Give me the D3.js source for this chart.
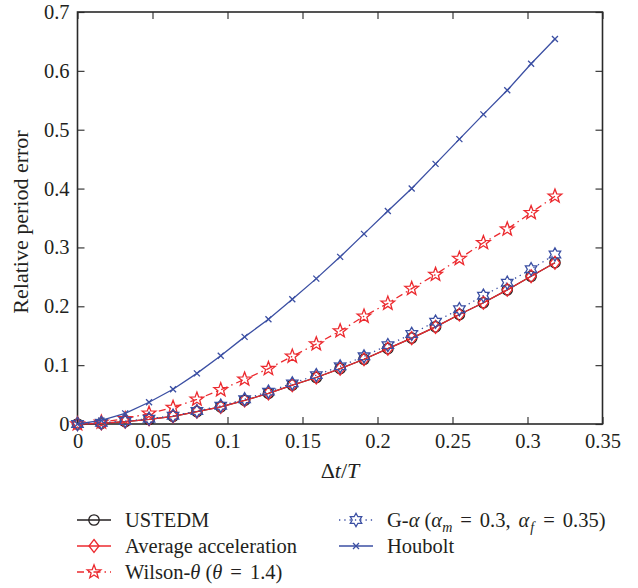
<!DOCTYPE html>
<html>
<head>
<meta charset="utf-8">
<script src="https://cdn.jsdelivr.net/npm/d3@7"></script>
<style>
  html, body { margin: 0; padding: 0; background: #fff; }
  svg { display: block; }
  text { font-family: "Liberation Serif", "Times New Roman", serif; fill: #231f20; }
</style>
</head>
<body>
<svg id="chart" width="638" height="588" font-family="Liberation Serif, serif"></svg>
<script>
// Time-step ratio Δt/T
const dtOverT = [0, 0.0159, 0.0318, 0.0477, 0.0637, 0.0796, 0.0955, 0.1114, 0.1273, 0.1432,
  0.1592, 0.1751, 0.1910, 0.2069, 0.2228, 0.2387, 0.2546, 0.2706, 0.2865, 0.3024, 0.3183];

// Relative period error of each scheme
const ustedm = [0, 0.001, 0.004, 0.008, 0.013, 0.021, 0.029, 0.040, 0.052, 0.066, 0.079,
  0.094, 0.110, 0.128, 0.146, 0.165, 0.186, 0.206, 0.228, 0.251, 0.274];
const averageAcceleration = [0, 0.001, 0.004, 0.008, 0.013, 0.021, 0.029, 0.040, 0.052, 0.066, 0.079,
  0.094, 0.110, 0.128, 0.146, 0.165, 0.186, 0.206, 0.228, 0.251, 0.274];
const wilsonTheta = [0, 0.003, 0.009, 0.018, 0.028, 0.042, 0.058, 0.076, 0.094, 0.115, 0.136,
  0.158, 0.183, 0.205, 0.230, 0.254, 0.281, 0.308, 0.331, 0.359, 0.387];
const generalizedAlpha = [0, 0.002, 0.005, 0.009, 0.014, 0.022, 0.031, 0.042, 0.055, 0.069, 0.083,
  0.098, 0.115, 0.134, 0.153, 0.174, 0.195, 0.218, 0.240, 0.263, 0.288];
const houbolt = [0, 0.006, 0.018, 0.037, 0.059, 0.086, 0.116, 0.148, 0.178, 0.212, 0.247,
  0.284, 0.323, 0.362, 0.400, 0.442, 0.484, 0.526, 0.567, 0.612, 0.654];

// Tick values and labels
const xTicks = [0, 0.05, 0.1, 0.15, 0.2, 0.25, 0.3, 0.35];
const xTickLabels = ["0", "0.05", "0.1", "0.15", "0.2", "0.25", "0.3", "0.35"];
const yTicks = [0, 0.1, 0.2, 0.3, 0.4, 0.5, 0.6, 0.7];
const yTickLabels = ["0", "0.1", "0.2", "0.3", "0.4", "0.5", "0.6", "0.7"];

const RED = "#ec2a2f", BLUE = "#3b4fa3", BLACK = "#231f20";

const svg = d3.select("#chart");
const plot = { left: 77.5, right: 602.5, top: 12, bottom: 424 };

const x = d3.scaleLinear().domain([0, 0.35]).range([plot.left, plot.right]);
const y = d3.scaleLinear().domain([0, 0.7]).range([plot.bottom, plot.top]);

// Marker shape generators (centered at origin)
function starPath(points, R, r) {
  const p = d3.path();
  for (let i = 0; i < points * 2; i++) {
    const a = -Math.PI / 2 + i * Math.PI / points;
    const rad = i % 2 === 0 ? R : r;
    const px = rad * Math.cos(a), py = rad * Math.sin(a);
    if (i === 0) p.moveTo(px, py); else p.lineTo(px, py);
  }
  p.closePath();
  return p.toString();
}
const markerPaths = {
  circle: d3.symbol(d3.symbolCircle, Math.PI * 5.2 * 5.2)(),
  diamond: "M0,-6.5L5,0L0,6.5L-5,0Z",
  pentagram: starPath(5, 7.2, 3.0),
  hexagram: starPath(6, 6.6, 3.8),
  cross: "M-3,-3L3,3M-3,3L3,-3"
};

const series = [
  { name: "USTEDM", values: ustedm, color: BLACK, dash: null, marker: "circle" },
  { name: "Average acceleration", values: averageAcceleration, color: RED, dash: null, marker: "diamond" },
  { name: "Wilson", values: wilsonTheta, color: RED, dash: "7,4,1.5,4", marker: "pentagram" },
  { name: "G-alpha", values: generalizedAlpha, color: BLUE, dash: "1.3,4", marker: "hexagram" },
  { name: "Houbolt", values: houbolt, color: BLUE, dash: null, marker: "cross" }
];

// Axes: inward ticks on all four sides
const tickLen = 7;
const fontSize = 20.5;
const xAxis = d3.axisBottom(x).tickValues(xTicks)
  .tickFormat((d, i) => xTickLabels[i]).tickSizeInner(-tickLen).tickSizeOuter(0).tickPadding(9);
const yAxis = d3.axisLeft(y).tickValues(yTicks)
  .tickFormat((d, i) => yTickLabels[i]).tickSizeInner(-tickLen).tickSizeOuter(0).tickPadding(8);
const xAxisTop = d3.axisTop(x).tickValues(xTicks).tickFormat("").tickSizeInner(-tickLen).tickSizeOuter(0);
const yAxisRight = d3.axisRight(y).tickValues(yTicks).tickFormat("").tickSizeInner(-tickLen).tickSizeOuter(0);

function styleAxis(g) {
  g.attr("font-family", null).attr("font-size", null);
  g.select(".domain").remove();
  g.selectAll(".tick line").attr("stroke", "#3a3a3a").attr("stroke-width", 1.2);
  g.selectAll(".tick text").attr("fill", BLACK)
    .style("font-family", "'Liberation Serif', serif").style("font-size", fontSize + "px");
}
svg.append("g").attr("transform", `translate(0,${plot.bottom})`).call(xAxis).call(styleAxis);
svg.append("g").attr("transform", `translate(${plot.left},0)`).call(yAxis).call(styleAxis);
svg.append("g").attr("transform", `translate(0,${plot.top})`).call(xAxisTop).call(styleAxis);
svg.append("g").attr("transform", `translate(${plot.right},0)`).call(yAxisRight).call(styleAxis);

// Plot frame
svg.append("rect")
  .attr("x", plot.left).attr("y", plot.top)
  .attr("width", plot.right - plot.left).attr("height", plot.bottom - plot.top)
  .attr("fill", "none").attr("stroke", "#2a2a2a").attr("stroke-width", 1.6);

// Series lines and markers
const line = d3.line().x((d, i) => x(dtOverT[i])).y(d => y(d));
series.forEach(s => {
  const g = svg.append("g");
  g.append("path").datum(s.values)
    .attr("d", line).attr("fill", "none")
    .attr("stroke", s.color).attr("stroke-width", 1.3)
    .attr("stroke-dasharray", s.dash);
  g.selectAll("path.m").data(s.values).join("path")
    .attr("class", "m")
    .attr("d", markerPaths[s.marker])
    .attr("transform", (d, i) => `translate(${x(dtOverT[i])},${y(d)})`)
    .attr("fill", "none").attr("stroke", s.color).attr("stroke-width", 1.3);
});

// Axis titles
svg.append("text")
  .attr("transform", `translate(28,${(plot.top + plot.bottom) / 2 + 4}) rotate(-90)`)
  .attr("text-anchor", "middle").style("font-size", "22px")
  .text("Relative period error");

const xt = svg.append("text")
  .attr("x", (plot.left + plot.right) / 2).attr("y", 478)
  .attr("text-anchor", "middle").style("font-size", "22px");
xt.append("tspan").text("Δ");
xt.append("tspan").style("font-style", "italic").text("t");
xt.append("tspan").text("/");
xt.append("tspan").style("font-style", "italic").text("T");

// Legend
const legend = svg.append("g").style("font-size", fontSize + "px");
const legendItems = [
  { s: series[0], col: 0, row: 0 },
  { s: series[1], col: 0, row: 1 },
  { s: series[2], col: 0, row: 2 },
  { s: series[3], col: 1, row: 0 },
  { s: series[4], col: 1, row: 1 }
];
const colX = [77, 339];
const rowY = [520, 546, 572];
const sampleLen = 34;

legendItems.forEach(item => {
  const { s, col, row } = item;
  const x0 = colX[col], yy = rowY[row];
  legend.append("line")
    .attr("x1", x0).attr("x2", x0 + sampleLen).attr("y1", yy).attr("y2", yy)
    .attr("stroke", s.color).attr("stroke-width", 1.3)
    .attr("stroke-dasharray", s.dash);
  legend.append("path")
    .attr("d", markerPaths[s.marker])
    .attr("transform", `translate(${x0 + sampleLen / 2},${yy})`)
    .attr("fill", "none").attr("stroke", s.color).attr("stroke-width", 1.3);
});

function legendText(col, row) {
  return legend.append("text").attr("x", colX[col] + sampleLen + 14).attr("y", rowY[row] + 7);
}
// Appends a run of text; math-style runs are italic, extra space via dx
function run(t, str, opts = {}) {
  const sp = t.append("tspan").text(str);
  if (opts.italic) sp.style("font-style", "italic");
  if (opts.size) sp.style("font-size", opts.size + "px");
  if (opts.dx) sp.attr("dx", opts.dx);
  if (opts.dy) sp.attr("dy", opts.dy);
  return sp;
}
legendText(0, 0).text("USTEDM");
legendText(0, 1).text("Average acceleration");
{
  const t = legendText(0, 2);
  run(t, "Wilson-");
  run(t, "θ", { italic: true });
  run(t, " (");
  run(t, "θ", { italic: true });
  run(t, "=", { dx: 8 });
  run(t, "1.4)", { dx: 8 });
}
{
  const t = legendText(1, 0);
  run(t, "G-");
  run(t, "α", { italic: true });
  run(t, " (");
  run(t, "α", { italic: true });
  run(t, "m", { italic: true, size: 14, dy: 5 });
  run(t, "=", { dx: 8, dy: -5 });
  run(t, "0.3,", { dx: 8 });
  run(t, "α", { italic: true, dx: 8 });
  run(t, "f", { italic: true, size: 14, dy: 5, dx: 1 });
  run(t, "=", { dx: 9, dy: -5 });
  run(t, "0.35)", { dx: 8 });
}
legendText(1, 1).text("Houbolt");
</script>
</body>
</html>
